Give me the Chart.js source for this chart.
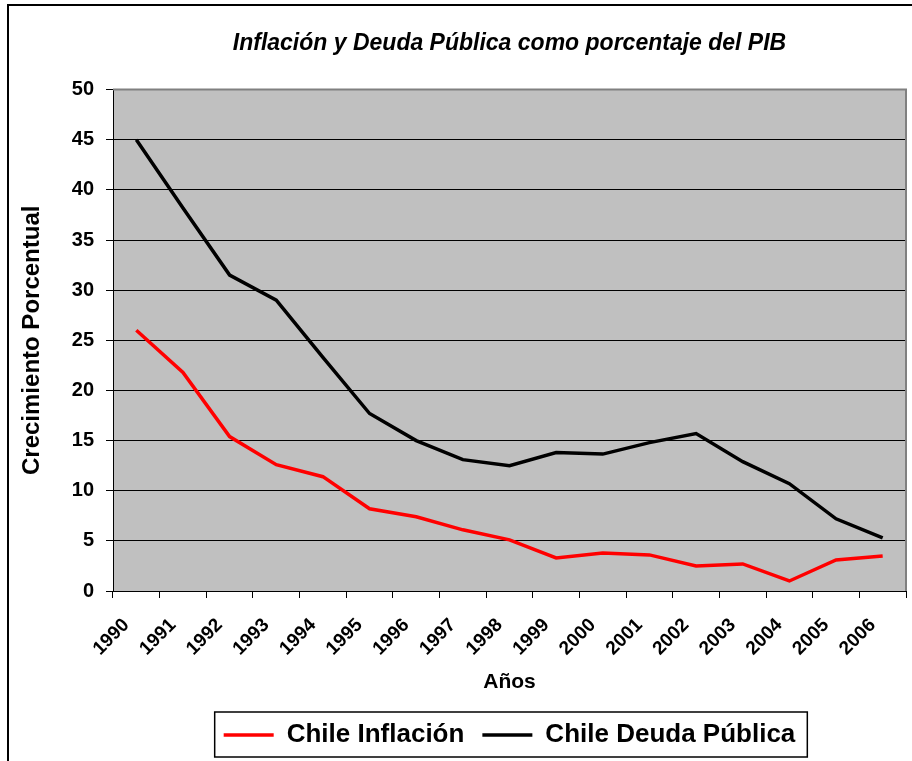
<!DOCTYPE html>
<html>
<head>
<meta charset="utf-8">
<script src="https://cdn.jsdelivr.net/npm/chart.js@4.4.1/dist/chart.umd.min.js"></script>
<style>
  html, body { margin: 0; padding: 0; background: #fff; }
  #wrap { width: 912px; height: 761px; }
</style>
</head>
<body>
<div id="wrap"><canvas id="c" width="912" height="761"></canvas></div>
<script>
const years = ['1990','1991','1992','1993','1994','1995','1996','1997','1998','1999','2000','2001','2002','2003','2004','2005','2006'];
const inflacion = [26.0, 21.8, 15.4, 12.6, 11.4, 8.2, 7.4, 6.1, 5.1, 3.3, 3.8, 3.6, 2.5, 2.7, 1.0, 3.1, 3.5];
const deuda = [45.0, 38.2, 31.5, 29.0, 23.3, 17.7, 15.0, 13.1, 12.5, 13.8, 13.65, 14.8, 15.7, 12.9, 10.7, 7.2, 5.3];
const yTicks = [0, 5, 10, 15, 20, 25, 30, 35, 40, 45, 50];

const FONT = "'Liberation Sans', Arial, sans-serif";

const decor = {
  id: 'decor',
  beforeDraw(chart) {
    const {ctx, chartArea: a} = chart;
    ctx.save();
    ctx.fillStyle = '#C0C0C0';
    ctx.fillRect(a.left, a.top, a.right - a.left, a.bottom - a.top);
    ctx.restore();
  },
  afterDraw(chart) {
    const {ctx, chartArea: a} = chart;
    ctx.save();
    ctx.strokeStyle = '#808080';
    ctx.lineWidth = 2;
    ctx.beginPath();
    ctx.moveTo(a.left, a.top);
    ctx.lineTo(a.right, a.top);
    ctx.lineTo(a.right, a.bottom);
    ctx.stroke();
    ctx.strokeStyle = '#000';
    ctx.lineWidth = 2;
    ctx.beginPath();
    ctx.moveTo(8, 761);
    ctx.lineTo(8, 5);
    ctx.lineTo(912, 5);
    ctx.stroke();
    const hb = chart.legend.legendHitBoxes;
    if (hb && hb.length) {
      const l = hb[0].left - 9;
      const r = hb[hb.length - 1].left + hb[hb.length - 1].width + 12;
      const t = hb[0].top - 10;
      const b = hb[0].top + hb[0].height + 9;
      ctx.strokeStyle = '#000';
      ctx.lineWidth = 1.5;
      ctx.strokeRect(l, t, r - l, b - t);
    }
    ctx.restore();
  }
};

new Chart(document.getElementById('c'), {
  type: 'line',
  data: {
    labels: years,
    datasets: [
      { label: 'Chile Inflación', data: inflacion, borderColor: '#FF0000', backgroundColor: '#FF0000', borderWidth: 3.5, pointRadius: 0, tension: 0, fill: false },
      { label: 'Chile Deuda Pública', data: deuda, borderColor: '#000000', backgroundColor: '#000000', borderWidth: 3.5, pointRadius: 0, tension: 0, fill: false }
    ]
  },
  options: {
    responsive: false,
    animation: false,
    devicePixelRatio: 1,
    layout: { padding: { left: 0, right: 6, top: 0, bottom: 3 } },
    plugins: {
      title: {
        display: true,
        text: 'Inflación y Deuda Pública como porcentaje del PIB',
        color: '#000',
        fullSize: false,
        font: { family: FONT, size: 23, weight: 'bold', style: 'italic' },
        padding: { top: 30, bottom: 32 }
      },
      legend: {
        position: 'bottom',
        fullSize: false,
        labels: {
          color: '#000',
          font: { family: FONT, size: 26, weight: 'bold' },
          usePointStyle: true,
          pointStyle: 'line',
          pointStyleWidth: 50,
          padding: 18
        }
      },
      tooltip: { enabled: false }
    },
    scales: {
      x: {
        type: 'category',
        offset: true,
        grid: { display: true, drawOnChartArea: false, offset: true, color: '#000', tickLength: 7, tickWidth: 1 },
        border: { display: true, color: '#000', width: 1 },
        ticks: {
          color: '#000',
          font: { family: FONT, size: 19, weight: 'bold' },
          minRotation: 45, maxRotation: 45,
          autoSkip: false,
          padding: 16,
          labelOffset: -10
        },
        title: {
          display: true, text: 'Años', color: '#000',
          font: { family: FONT, size: 21, weight: 'bold' },
          padding: { top: 0, bottom: 9 }
        },
        afterFit(scale) { scale.height = 113; scale.paddingRight = 0; scale.paddingLeft = 0; }
      },
      y: {
        min: 0, max: 50,
        afterBuildTicks(scale) { scale.ticks = yTicks.map(v => ({ value: v })); },
        grid: { color: '#000', lineWidth: 1, tickLength: 7, drawTicks: true },
        border: { display: true, color: '#000', width: 1 },
        ticks: {
          color: '#000',
          font: { family: FONT, size: 20, weight: 'bold' },
          padding: 12
        },
        title: {
          display: true, text: 'Crecimiento Porcentual', color: '#000',
          font: { family: FONT, size: 24, weight: 'bold' },
          padding: { top: 18, bottom: 0 }
        },
        afterFit(scale) { scale.width = 113; scale.paddingTop = 0; scale.paddingBottom = 0; }
      }
    }
  },
  plugins: [decor]
});
</script>
</body>
</html>
